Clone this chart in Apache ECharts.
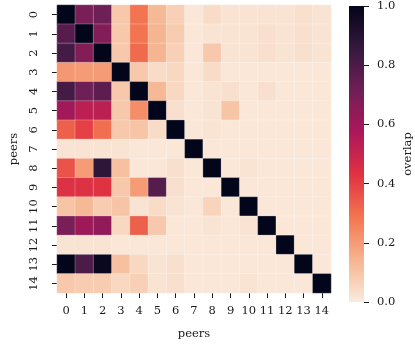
<!DOCTYPE html>
<html>
<head>
<meta charset="utf-8">
<script src="https://cdn.jsdelivr.net/npm/echarts@6/dist/echarts.min.js"></script>
<style>
html,body{margin:0;padding:0;background:#fff;}
#chart{width:415px;height:345px;}
</style>
</head>
<body>
<div id="chart"></div>
<script>
// categories (peer ids)
var peers = ['0','1','2','3','4','5','6','7','8','9','10','11','12','13','14'];
// overlap values, one row per peer (row index = y, column index = x)
var overlapRows = [
  [1.00,0.69,0.72,0.09,0.29,0.13,0.07,0.01,0.04,0.02,0.02,0.02,0.02,0.03,0.02],
  [0.78,1.00,0.67,0.09,0.29,0.14,0.08,0.01,0.02,0.02,0.02,0.03,0.02,0.03,0.02],
  [0.82,0.67,1.00,0.09,0.31,0.14,0.07,0.01,0.09,0.02,0.02,0.03,0.02,0.03,0.02],
  [0.21,0.20,0.20,1.00,0.09,0.04,0.05,0.01,0.04,0.01,0.01,0.01,0.01,0.01,0.01],
  [0.82,0.72,0.76,0.09,1.00,0.13,0.05,0.01,0.02,0.03,0.01,0.03,0.01,0.01,0.01],
  [0.60,0.53,0.53,0.09,0.23,1.00,0.03,0.01,0.02,0.10,0.01,0.01,0.01,0.01,0.01],
  [0.33,0.40,0.30,0.09,0.10,0.04,1.00,0.01,0.02,0.01,0.01,0.01,0.01,0.01,0.01],
  [0.02,0.02,0.02,0.02,0.01,0.01,0.01,1.00,0.01,0.01,0.01,0.01,0.01,0.01,0.01],
  [0.36,0.20,0.88,0.11,0.01,0.01,0.03,0.01,1.00,0.01,0.02,0.01,0.01,0.01,0.01],
  [0.44,0.44,0.43,0.09,0.20,0.78,0.03,0.01,0.01,1.00,0.01,0.01,0.01,0.01,0.01],
  [0.10,0.13,0.08,0.10,0.02,0.04,0.02,0.01,0.06,0.01,1.00,0.01,0.01,0.01,0.01],
  [0.69,0.61,0.64,0.05,0.33,0.09,0.01,0.01,0.02,0.01,0.02,1.00,0.01,0.01,0.01],
  [0.02,0.02,0.02,0.01,0.01,0.01,0.01,0.01,0.01,0.01,0.01,0.01,1.00,0.01,0.01],
  [1.00,0.80,0.98,0.11,0.05,0.02,0.03,0.01,0.01,0.01,0.01,0.01,0.01,1.00,0.01],
  [0.09,0.08,0.08,0.05,0.07,0.02,0.03,0.01,0.01,0.01,0.02,0.01,0.01,0.01,1.00]
];
// colour bar ticks
var colorbarTicks = [0.0,0.2,0.4,0.6,0.8,1.0];
// rocket_r colormap, evenly spaced from 0 to 1
var rocketR = ['#FAEBDD','#F6B48F','#F37651','#E13342','#AD1759','#701F57','#35193E','#03051A'];

var heatData = [];
for (var r = 0; r < overlapRows.length; r++) {
  for (var c = 0; c < overlapRows[r].length; c++) {
    heatData.push([c, r, overlapRows[r][c]]);
  }
}
var stops = rocketR.map(function(col, i){ return {offset: i/(rocketR.length-1), color: col}; });

var FONT = 'DejaVu Serif';
var FS = 11.5;
var TXT = '#1a1a1a';
var chart = echarts.init(document.getElementById('chart'), null, {renderer:'canvas'});
chart.setOption({
  animation: false,
  backgroundColor: '#fff',
  grid: [
    {left: 43, top: 5, width: 288, height: 297},
    {left: 349, top: 5, width: 15, height: 297}
  ],
  xAxis: [
    {type:'category', gridIndex:0, data: peers, position:'bottom',
     axisLine:{show:false}, splitLine:{show:false},
     axisTick:{show:true, alignWithLabel:true, length:5, lineStyle:{color:TXT, width:1}},
     axisLabel:{fontFamily:FONT, fontSize:FS, color:TXT, margin:12, interval:0},
     name:'peers', nameLocation:'middle', nameGap:35,
     nameTextStyle:{fontFamily:FONT, fontSize:FS, color:TXT}},
    {type:'category', gridIndex:1, data:['cb'], show:false}
  ],
  yAxis: [
    {type:'category', gridIndex:0, data: peers, inverse:true,
     axisLine:{show:false}, splitLine:{show:false},
     axisTick:{show:true, alignWithLabel:true, length:5, lineStyle:{color:TXT, width:1}},
     axisLabel:{fontFamily:FONT, fontSize:FS, color:TXT, margin:17, rotate:90, interval:0},
     name:'peers', nameLocation:'middle', nameGap:37, nameRotate:90,
     nameTextStyle:{fontFamily:FONT, fontSize:FS, color:TXT}},
    {type:'value', gridIndex:1, min:0, max:1, interval:0.2, position:'right',
     axisLine:{show:false}, splitLine:{show:false},
     axisTick:{show:true, length:5, lineStyle:{color:TXT, width:1}},
     axisLabel:{fontFamily:FONT, fontSize:FS, color:TXT, margin:13,
       formatter:function(v){ return v.toFixed(1); }},
     name:'overlap', nameLocation:'middle', nameGap:38, nameRotate:90,
     nameTextStyle:{fontFamily:FONT, fontSize:FS, color:TXT}}
  ],
  visualMap: {
    show:false, type:'continuous', min:0, max:1, seriesIndex:0,
    inRange:{color: rocketR}
  },
  series: [
    {type:'heatmap', xAxisIndex:0, yAxisIndex:0, data: heatData,
     itemStyle:{borderColor:'rgba(255,255,255,0.5)', borderWidth:0.5},
     emphasis:{disabled:true}},
    {type:'bar', xAxisIndex:1, yAxisIndex:1, data:[1], barWidth:'100%',
     itemStyle:{color:{type:'linear', x:0, y:1, x2:0, y2:0, colorStops: stops}},
     silent:true}
  ]
});
</script>
</body>
</html>
